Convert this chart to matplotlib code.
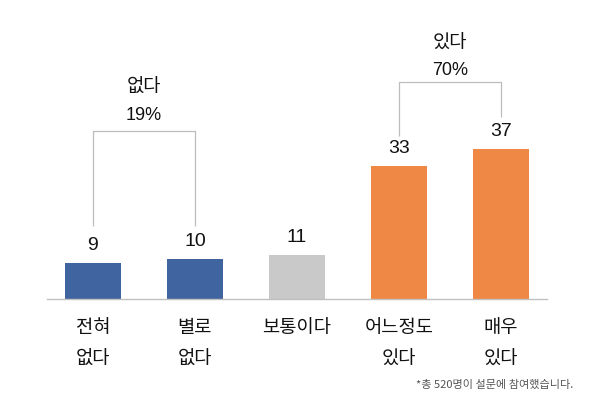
import matplotlib.pyplot as plt
import matplotlib.transforms as mtransforms

plt.rcParams['font.family'] = ['Liberation Sans', 'Noto Sans CJK KR', 'DejaVu Sans']

categories = ['전혀\n없다', '별로\n없다', '보통이다', '어느정도\n있다', '매우\n있다']
values = [9, 10, 11, 33, 37]
colors = ['#4064a0', '#4064a0', '#c9c9c9', '#ef8844', '#ef8844']

# groups: (first bar, last bar, title, percent)
groups = [(0, 1, '없다', '19%'), (3, 4, '있다', '70%')]
note = '*총 520명이 설문에 참여했습니다.'

fig = plt.figure(figsize=(6.0, 4.07), dpi=100)
ax = fig.add_axes([0.0783, 0.2654, 0.8334, 0.6855])

x = range(len(values))
bars = ax.bar(x, values, width=0.55, color=colors)
ax.set_xlim(-0.45, 4.45)
ax.set_ylim(0, 69)

for b, v in zip(bars, values):
    ax.text(b.get_x() + b.get_width() / 2, v + 2.2, str(v), ha='center', va='bottom',
            fontsize=14, color='#111111')

# bracket geometry (data units)
bracket_style = [
    # left end, right end, top, title y, percent y
    (18.1, 18.1, 41.6, 52.4, 45.4),
    (40.4, 44.9, 53.6, 63.2, 56.5),
]
for (i0, i1, title, pct), (yl, yr, top, ty, py) in zip(groups, bracket_style):
    ax.plot([i0, i0, i1, i1], [yl, top, top, yr], color='#bdbdbd', lw=0.9,
            solid_capstyle='butt', clip_on=False)
    xm = (i0 + i1) / 2
    ax.text(xm, ty, title, ha='center', va='center', fontsize=13.5, color='#111111',
            family=['Noto Sans CJK KR', 'DejaVu Sans'])
    ax.text(xm, py, pct, ha='center', va='center', fontsize=13, color='#111111')

trans = mtransforms.blended_transform_factory(ax.transData, fig.transFigure)
for i, c in enumerate(categories):
    ax.text(i, 1 - 317 / 407, c, ha='center', va='top', fontsize=13.5, color='#111111',
            linespacing=1.65, transform=trans, family=['Noto Sans CJK KR', 'DejaVu Sans'])

fig.text(573 / 600, 1 - 385 / 407, note, ha='right', va='center', fontsize=8,
         color='#555555', family=['Noto Sans CJK KR', 'DejaVu Sans'])

for s in ['top', 'right', 'left']:
    ax.spines[s].set_visible(False)
ax.spines['bottom'].set_color('#c0c0c0')
ax.spines['bottom'].set_linewidth(1)
ax.set_xticks([])
ax.set_yticks([])

fig.savefig('out.png', dpi=100, facecolor='white')
